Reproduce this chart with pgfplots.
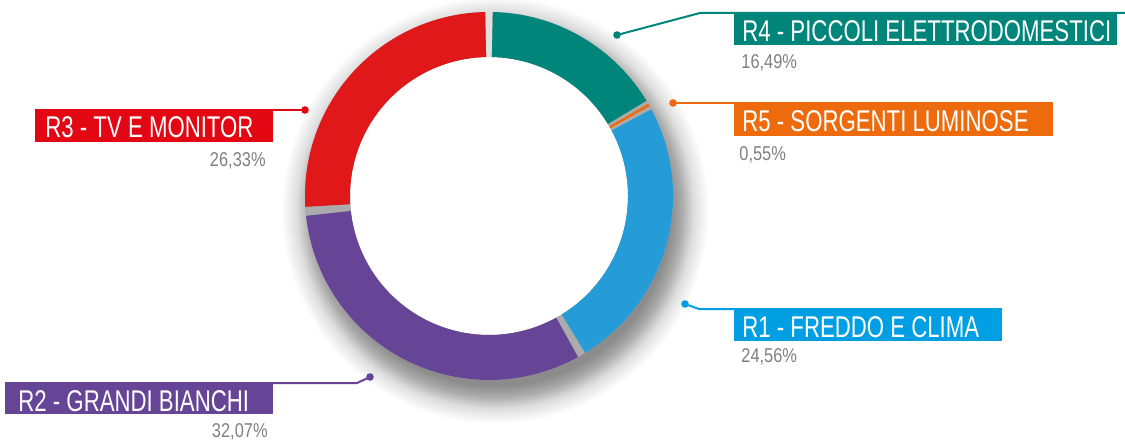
\documentclass[border=0pt]{standalone}
\usepackage{pgfplots}
\pgfplotsset{compat=1.18}
\usepackage{fontspec}
\setmainfont{Liberation Sans}[FakeStretch=0.74]
\newfontfamily\pctfont{Liberation Sans}[FakeStretch=0.82]
\definecolor{cteal}{RGB}{0,133,122}
\definecolor{corange}{RGB}{237,107,12}
\definecolor{cblue}{RGB}{37,155,215}
\definecolor{cbluebox}{RGB}{0,159,227}
\definecolor{cpurple}{RGB}{102,69,150}
\definecolor{cred}{RGB}{225,24,26}
\definecolor{credbox}{RGB}{227,6,19}
\definecolor{cpct}{RGB}{128,128,128}
\pgfdeclareradialshading{ringshadow}{\pgfpoint{0bp}{0bp}}{%
 color(0bp)=(black!45); color(20.5bp)=(black!45); color(21.8bp)=(black!33);
 color(23.2bp)=(black!13); color(25bp)=(white); color(50bp)=(white)}
% shares of the five groupings (percent), clockwise from the top
\def\vA{16.49}\def\vB{0.55}\def\vC{24.56}\def\vD{32.07}\def\vE{26.33}
\pgfmathsetmacro\aA{90}
\pgfmathsetmacro\aB{\aA-\vA*3.6}
\pgfmathsetmacro\aC{\aB-\vB*3.6}
\pgfmathsetmacro\aD{\aC-\vC*3.6}
\pgfmathsetmacro\aE{\aD-\vD*3.6}
\pgfmathsetmacro\aF{\aE-\vE*3.6}
\def\cx{489}\def\cy{196}
\def\Ro{92pt}\def\Ri{69.5pt}
% #1 start angle, #2 end angle, #3 colour, #4 gap at start, #5 gap at end
\newcommand\seg[5]{\fill[#3] ([shift={(#1-#4:\Ro)}]axis cs:\cx,\cy) arc[start angle=#1-#4, end angle=#2+#5, radius=\Ro] -- ([shift={(#2+#5:\Ri)}]axis cs:\cx,\cy) arc[start angle=#2+#5, end angle=#1-#4, radius=\Ri] -- cycle;}
\newcommand\lab{\fontsize{15pt}{18pt}\selectfont}
\newcommand\pct{\pctfont\fontsize{10pt}{12pt}\selectfont}
\begin{document}%
\begin{tikzpicture}
\begin{axis}[width=562.5pt, height=220.5pt, scale only axis,
  xmin=0, xmax=1125, ymin=0, ymax=441, y dir=reverse, hide axis, clip=false]
\coordinate (bl) at (axis cs:0,441);
\coordinate (tr) at (axis cs:1125,0);
% shadow
\shade[shading=ringshadow] (axis cs:495,210) circle[radius=107pt];
\fill[white] (axis cs:\cx,\cy) circle[radius=\Ri];
% base ring (gaps)
\fill[black!33, even odd rule] (axis cs:\cx,\cy) circle[radius=\Ro] (axis cs:\cx,\cy) circle[radius=\Ri];
\fill[black!12] ([shift={(91.1:\Ro)}]axis cs:\cx,\cy) arc[start angle=91.1, end angle=88.9, radius=\Ro] -- ([shift={(88.9:\Ri)}]axis cs:\cx,\cy) arc[start angle=88.9, end angle=91.1, radius=\Ri] -- cycle;
\seg{\aA}{\aB}{cteal}{1.2}{0.55}
\seg{\aB}{\aC}{corange}{0.55}{0.55}
\seg{\aC}{\aD}{cblue}{0.55}{1.3}
\seg{\aD}{\aE}{cpurple}{1.3}{1.4}
\seg{\aE}{\aF}{cred}{1.4}{1.2}
% leader lines
\draw[cteal, line width=1pt] (axis cs:617,35) -- (axis cs:700,13) -- (axis cs:1125,13);
\fill[cteal] (axis cs:617,35) circle[radius=1.9pt];
\draw[corange, line width=1pt] (axis cs:673,103) -- (axis cs:1053,103);
\fill[corange] (axis cs:673,103) circle[radius=1.9pt];
\draw[cbluebox, line width=1pt] (axis cs:685,304) -- (axis cs:699,309) -- (axis cs:1002,309);
\fill[cbluebox] (axis cs:685,304) circle[radius=1.9pt];
\draw[credbox, line width=1pt] (axis cs:305,110) -- (axis cs:273,110);
\fill[credbox] (axis cs:305,110) circle[radius=1.9pt];
\draw[cpurple, line width=1pt] (axis cs:370,377) -- (axis cs:357,383) -- (axis cs:5,383);
\fill[cpurple] (axis cs:370,377) circle[radius=1.9pt];
% label boxes
\fill[cteal] (axis cs:734,13) rectangle (axis cs:1117,45);
\fill[corange] (axis cs:734,103) rectangle (axis cs:1053,136);
\fill[cbluebox] (axis cs:734,309) rectangle (axis cs:1002,341);
\fill[credbox] (axis cs:35,109) rectangle (axis cs:273,142);
\fill[cpurple] (axis cs:5,383) rectangle (axis cs:273,414);
\node[anchor=base west, inner sep=0, text=white, font=\lab] at (axis cs:742,42) {R4 - PICCOLI ELETTRODOMESTICI};
\node[anchor=base west, inner sep=0, text=white, font=\lab] at (axis cs:742,132) {R5 - SORGENTI LUMINOSE};
\node[anchor=base west, inner sep=0, text=white, font=\lab] at (axis cs:742,337) {R1 - FREDDO E CLIMA};
\node[anchor=base west, inner sep=0, text=white, font=\lab] at (axis cs:45,138) {R3 - TV E MONITOR};
\node[anchor=base west, inner sep=0, text=white, font=\lab] at (axis cs:18,411) {R2 - GRANDI BIANCHI};
\node[anchor=base west, inner sep=0, text=cpct, font=\pct] at (axis cs:741,69) {16,49\%};
\node[anchor=base west, inner sep=0, text=cpct, font=\pct] at (axis cs:739,160) {0,55\%};
\node[anchor=base west, inner sep=0, text=cpct, font=\pct] at (axis cs:741,362) {24,56\%};
\node[anchor=base east, inner sep=0, text=cpct, font=\pct] at (axis cs:266,166) {26,33\%};
\node[anchor=base east, inner sep=0, text=cpct, font=\pct] at (axis cs:268,437) {32,07\%};
\end{axis}
\pgfresetboundingbox
\path (bl) rectangle (tr);
\end{tikzpicture}%
\end{document}
